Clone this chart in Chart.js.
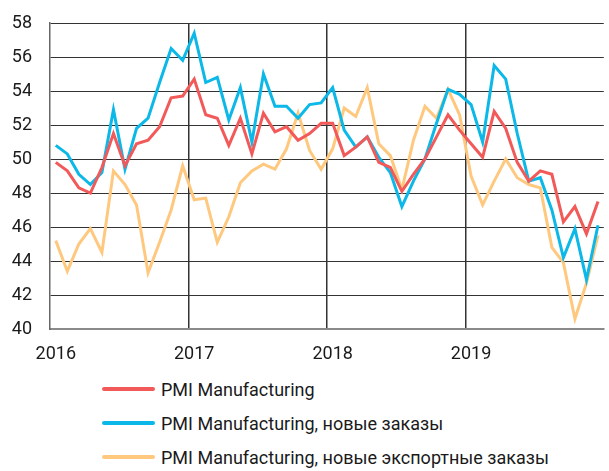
<!DOCTYPE html>
<html>
<head>
<meta charset="utf-8">
<script src="https://cdn.jsdelivr.net/npm/chart.js@4/dist/chart.umd.min.js"></script>
<style>
  body { margin: 0; background: #fff; overflow: hidden; font-family: Roboto, sans-serif; }
  #wrap { width: 613px; height: 372px; position: relative; }
  #legend { padding-left: 102px; }
  .item { height: 34px; display: flex; align-items: center; font-size: 18px; color: #1a1a1a; }
  .item span.ln { display: inline-block; width: 53px; height: 4px; border-radius: 2px; margin-right: 6px; }
</style>
</head>
<body>
<div id="wrap"><canvas id="pmi"></canvas></div>
<div id="legend"></div>
<script>
// monthly values, Jan 2016 .. Dec 2019
var years = ["2016", "2017", "2018", "2019"];

var pmi = [49.8, 49.3, 48.3, 48.0, 49.5, 51.5, 49.6, 50.9, 51.1, 51.9, 53.6, 53.7,
           54.7, 52.6, 52.4, 50.8, 52.4, 50.3, 52.7, 51.6, 51.9, 51.1, 51.5, 52.1,
           52.1, 50.2, 50.7, 51.3, 49.8, 49.5, 48.1, 49.1, 50.0, 51.3, 52.6, 51.7,
           50.9, 50.1, 52.8, 51.8, 49.8, 48.7, 49.3, 49.1, 46.3, 47.2, 45.6, 47.5];

var newOrders = [50.8, 50.3, 49.1, 48.5, 49.2, 52.9, 49.4, 51.8, 52.4, 54.5, 56.5, 55.8,
                 57.4, 54.5, 54.8, 52.3, 54.2, 51.0, 55.0, 53.1, 53.1, 52.4, 53.2, 53.3,
                 54.2, 51.7, 50.7, 51.3, 50.1, 49.2, 47.2, 48.7, 50.0, 52.1, 54.1, 53.8,
                 53.2, 51.0, 55.5, 54.7, 51.5, 48.7, 48.9, 47.0, 44.2, 45.9, 42.9, 46.1];

var exportOrders = [45.2, 43.4, 45.0, 45.9, 44.5, 49.3, 48.5, 47.3, 43.3, 45.1, 47.0, 49.6,
                    47.6, 47.7, 45.1, 46.6, 48.6, 49.3, 49.7, 49.4, 50.6, 52.7, 50.5, 49.4,
                    50.6, 53.0, 52.5, 54.2, 50.9, 50.2, 48.2, 51.1, 53.1, 52.4, 54.1, 52.6,
                    49.0, 47.3, 48.7, 50.0, 48.9, 48.5, 48.3, 44.8, 43.9, 40.6, 42.7, 45.5];

var months = [];
years.forEach(function (y) {
    for (var m = 1; m <= 12; m++) months.push(y + "-" + (m < 10 ? "0" + m : m));
});

var txt = "#1a1a1a";
var fnt = { family: "Roboto", size: 18 };

var data = {
    labels: months,
    datasets: [
        { label: "PMI Manufacturing", data: pmi, borderColor: "#f25a5a" },
        { label: "PMI Manufacturing, новые заказы", data: newOrders, borderColor: "#0bb8e8" },
        { label: "PMI Manufacturing, новые экспортные заказы", data: exportOrders, borderColor: "#ffc87f" }
    ]
};
data.datasets.forEach(function (d) {
    d.borderWidth = 3;
    d.pointRadius = 0;
    d.tension = 0;
    d.fill = false;
});

var chart = new Chart(document.getElementById("pmi"), {
    type: "line",
    data: data,
    options: {
        responsive: true,
        maintainAspectRatio: false,
        animation: false,
        layout: { padding: { top: 23, right: 0, left: 0, bottom: 0 } },
        plugins: { legend: { display: false }, tooltip: { enabled: false } },
        scales: {
            x: {
                type: "category",
                offset: true,
                afterFit: function (s) { s.height = 43; },
                grid: {
                    offset: true,
                    drawTicks: false,
                    lineWidth: 1.5,
                    color: function (c) {
                        return (c.index > 0 && c.index < 48 && c.index % 12 === 0) ? "#333" : "rgba(0,0,0,0)";
                    }
                },
                border: { display: true, color: "#8a8a8a", width: 2 },
                ticks: {
                    autoSkip: false,
                    maxRotation: 0,
                    padding: 15,
                    color: txt,
                    font: fnt,
                    callback: function (v, i) { return i % 12 === 0 ? years[i / 12] : ""; }
                }
            },
            y: {
                min: 40,
                max: 58,
                afterFit: function (s) { s.width = 50; s.paddingTop = 0; s.paddingBottom = 0; },
                grid: { drawTicks: false, color: "#333", lineWidth: 1 },
                border: { display: true, color: "#666", width: 1.5 },
                ticks: { stepSize: 2, padding: 18, color: txt, font: fnt }
            }
        }
    }
});

// legend: one entry per row, below the chart
var leg = document.getElementById("legend");
chart.data.datasets.forEach(function (d) {
    var row = document.createElement("div");
    row.className = "item";
    var ln = document.createElement("span");
    ln.className = "ln";
    ln.style.background = d.borderColor;
    row.appendChild(ln);
    row.appendChild(document.createTextNode(d.label));
    leg.appendChild(row);
});
</script>
</body>
</html>
